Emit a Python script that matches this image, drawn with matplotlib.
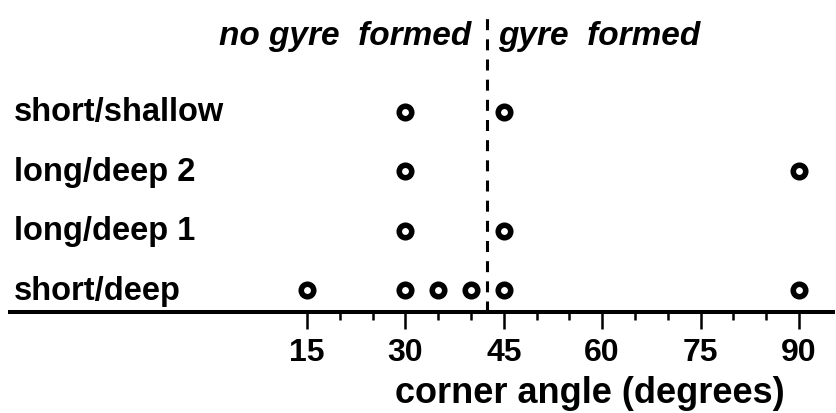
import matplotlib
matplotlib.use('Agg')
import matplotlib.pyplot as plt
from matplotlib.ticker import FixedLocator

# corner angles tested for each basin geometry
rows = ['short/deep', 'long/deep 1', 'long/deep 2', 'short/shallow']
short_deep = [15, 30, 35, 40, 45, 90]
long_deep_1 = [30, 45]
long_deep_2 = [30, 90]
short_shallow = [30, 45]
threshold = 42.5

major_ticks = [15, 30, 45, 60, 75, 90]
minor_ticks = [20, 25, 35, 40, 50, 55, 65, 70, 80, 85]

plt.rcParams['font.family'] = ['Liberation Sans', 'DejaVu Sans']
plt.rcParams['font.weight'] = 'bold'

fig = plt.figure(figsize=(8.37, 4.14), dpi=100)
ax = fig.add_axes([10 / 837, 1 - 313 / 414, 823 / 837, 313 / 414])

for i, angles in enumerate([short_deep, long_deep_1, long_deep_2, short_shallow]):
    ax.plot(angles, [i] * len(angles), 'o', ms=9.0, mew=4.0,
            mfc='white', mec='black', clip_on=False, zorder=3)
    ax.text(-29.7, i, rows[i], ha='left', va='center', fontsize=23.5,
            fontweight='bold')

ax.plot([threshold, threshold], [-0.37, 4.7], color='black', lw=2.2,
        linestyle=(0, (3.6, 3.0)), clip_on=False)

ax.text(40.1, 4.28, 'no gyre  formed', ha='right', va='center', fontsize=24,
        fontweight='bold', style='italic')
ax.text(44.2, 4.28, 'gyre  formed', ha='left', va='center', fontsize=24,
        fontweight='bold', style='italic')

ax.set_xlim(-30.3, 95.2)
ax.set_ylim(-0.37, 4.9)

for side in ['top', 'right', 'left']:
    ax.spines[side].set_visible(False)
ax.spines['bottom'].set_linewidth(2.9)
ax.set_yticks([])

ax.xaxis.set_major_locator(FixedLocator(major_ticks))
ax.xaxis.set_minor_locator(FixedLocator(minor_ticks))
ax.tick_params(axis='x', which='major', direction='out', length=12,
               width=1.8, pad=6, labelsize=23)
ax.tick_params(axis='x', which='minor', direction='out', length=6,
               width=1.8)
for lbl in ax.get_xticklabels():
    lbl.set_fontweight('bold')

ax.set_xlabel('corner angle (degrees)', fontsize=26, fontweight='bold')
ax.xaxis.set_label_coords(0.705, -0.2)

fig.savefig('out.png', dpi=100)
